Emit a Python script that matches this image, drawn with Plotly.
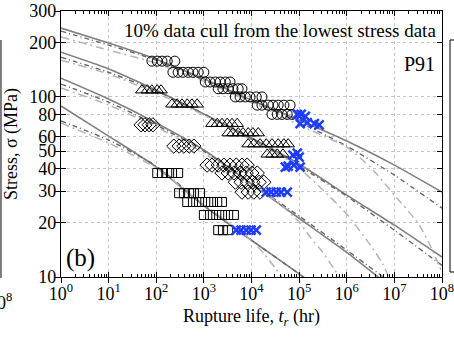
import plotly.graph_objects as go

# ---------------- data ----------------
# experimental rupture data, grouped by stress level rows (t in hr, stress in MPa)
circ_t = [81, 105, 132, 170, 245,
          224, 288, 363, 468, 589, 759, 1000,
          1070, 1350, 1740, 2190, 2820, 3550,
          2000, 2510, 3240, 4070, 5250, 6310,
          4570, 5750, 7410, 9330, 12600, 16600,
          13200, 16600, 22400, 28200, 36300, 47900, 64600,
          26900, 34700, 43700, 56200, 70800]
circ_s = [158]*5 + [137]*7 + [121]*6 + [111]*6 + [100]*6 + [90]*7 + [80]*5

tri_t = [50, 65, 81, 105, 126,
         214, 275, 347, 447, 562, 724,
         1480, 1910, 2400, 3090, 3890, 5010,
         3240, 4070, 5250, 6610, 8510, 10700, 13800,
         8510, 11200, 15100, 20400, 26900, 36300, 47900, 58900,
         21400, 26900, 34700, 45700]
tri_s = [109]*5 + [91]*6 + [71]*6 + [63]*7 + [54.7]*8 + [48]*4

dia_t = [48, 58, 71, 85,
         234, 302, 380, 490, 617,
         1170, 1480, 2000, 2630, 3550, 4790, 6310, 8130,
         2400, 3240, 4270, 5750, 7760, 10200, 13200,
         4570, 6030, 8130, 10700, 14500, 18200,
         6310, 8510, 11200, 15100]
dia_s = [70]*4 + [53.3]*5 + [41.8]*8 + [37.8]*7 + [33.6]*6 + [29.6]*4

sq_t = [105, 132, 170, 214, 288,
        302, 380, 490, 617, 832,
        447, 589, 794, 1070, 1410, 1910, 2400,
        1000, 1350, 1820, 2400, 3240, 4270,
        2000, 2510, 3240]
sq_s = [37.8]*5 + [29.2]*5 + [26.1]*7 + [22.1]*6 + [18.2]*3

# culled (lowest-stress 10%) data
cull_t = [91200, 110000, 135000, 105000, 148000, 209000, 263000,
          58900, 74100, 91200, 100000, 77600, 105000, 51300,
          20400, 25700, 33100, 41700, 56200,
          4790, 6030, 7760, 9770, 12600]
cull_s = [80, 80, 78, 71, 72, 71, 70,
          41.3, 47.5, 48.8, 46.3, 41.8, 40.8, 40.8,
          29.6, 29.6, 29.6, 29.6, 29.6,
          18.2, 18.2, 18.2, 18.2, 18.2]

# model predictions
t_grid = [1, 10, 100, 1e3, 1e4, 1e5, 1e6, 1e7, 1e8]
solid_1 = [241, 199, 162, 126, 96, 74.4, 56.9, 41.8, 29.6]
solid_2 = [177, 143, 109, 80.3, 59.1, 42.4, 28.5, 19.4, 12.9]
solid_3 = [127, 97.3, 71.6, 50.7, 32.8, 21.2, 13.7, 8.5, 5.4]
solid_4 = [89, 60.6, 40.8, 24.8, 16.0, 10.4, 6.5]

dot_1 = [232, 194, 160, 124, 94.9, 72.4, 53.3, 36.8, 24.1]
dot_2 = [166, 137, 108, 80.3, 58.4, 41.3, 28.1, 18.2, 11.6]
dot_3 = [117.8, 93.6, 69.8, 50.0, 33.2, 21.8, 14.1, 9.0]
dot_4 = [73.5, 57.6, 41.3, 25.1, 16.0, 10.4, 6.7]

light_1_t = [1, 10, 100, 1e3, 1e4, 1e5, 1e6, 3.16e6, 1e7, 3.16e7, 5.62e7, 1e8]
light_1 = [215, 182, 154, 122, 93.6, 69.8, 52.6, 40.7, 28.5, 19.9, 15.0, 10.6]
light_2_t = [1, 10, 100, 1e3, 1e4, 3.16e4, 1e5, 3.16e5, 1e6, 3.16e6, 5.62e6, 1e7]
light_2 = [160, 134, 105, 79.2, 57.6, 49.4, 40.3, 30.4, 22.4, 15.0, 11.9, 8.5]
light_3_t = [1, 10, 100, 1e3, 1e4, 3.16e4, 1e5, 1.78e5, 3.16e5, 5.62e5, 1e6]
light_3 = [112, 90.2, 68.1, 48.7, 32.0, 26.7, 20.2, 16.4, 13.7, 10.9, 8.5]
light_4_t = [1, 10, 100, 1e3, 3.16e3, 1e4, 1.78e4, 3.16e4, 5.62e4]
light_4 = [71.6, 55.5, 40.3, 25.1, 20.2, 16.0, 13.6, 11.2, 9.0]

x_major = [1, 10, 100, 1e3, 1e4, 1e5, 1e6, 1e7, 1e8]
x_labels = ["10<sup>%d</sup>" % k for k in range(9)]
y_ticks = [10, 20, 30, 40, 50, 60, 80, 100, 200, 300]
y_labels = ["10", "20", "30", "40", "50", "60", "80", "100", "200", "300"]
x_minor = [m * d for d in x_major[:-1] for m in range(2, 10)]

FONT = "Liberation Serif"
BLUE = "#1e3cff"
SOLID = "#808080"
DARK = "#666666"
LIGHT = "#b4b4b4"

fig = go.Figure()

# model curves
for s in (solid_1, solid_2, solid_3, solid_4):
    fig.add_trace(go.Scatter(x=t_grid[:len(s)], y=s, mode="lines",
                             line=dict(color=SOLID, width=1.6, shape="spline", smoothing=0.6),
                             hoverinfo="skip"))
for s in (dot_1, dot_2, dot_3, dot_4):
    fig.add_trace(go.Scatter(x=t_grid[:len(s)], y=s, mode="lines",
                             line=dict(color=DARK, width=1.4, dash="5px,3px,1px,3px",
                                       shape="spline", smoothing=0.6),
                             hoverinfo="skip"))
for tt, s in ((light_1_t, light_1), (light_2_t, light_2), (light_3_t, light_3), (light_4_t, light_4)):
    fig.add_trace(go.Scatter(x=tt, y=s, mode="lines",
                             line=dict(color=LIGHT, width=1.5, dash="8px,4px,2px,4px",
                                       shape="spline", smoothing=0.5),
                             hoverinfo="skip"))

# data
mk = dict(color="black", line=dict(color="black", width=1))
fig.add_trace(go.Scatter(x=circ_t, y=circ_s, mode="markers",
                         marker=dict(symbol="circle-open", size=10, **mk)))
fig.add_trace(go.Scatter(x=tri_t, y=tri_s, mode="markers",
                         marker=dict(symbol="triangle-up-open", size=11, **mk)))
fig.add_trace(go.Scatter(x=dia_t, y=dia_s, mode="markers",
                         marker=dict(symbol="diamond-open", size=11, **mk)))
fig.add_trace(go.Scatter(x=sq_t, y=sq_s, mode="markers",
                         marker=dict(symbol="square-open", size=9, **mk)))
fig.add_trace(go.Scatter(x=cull_t, y=cull_s, mode="markers",
                         marker=dict(symbol="x-thin", size=9, color=BLUE,
                                     line=dict(color=BLUE, width=2.5))))

# invisible trace to carry the outward tick stubs
fig.add_trace(go.Scatter(x=[x_major[0]], y=[y_ticks[0]], mode="markers", xaxis="x2", yaxis="y2",
                         marker=dict(opacity=0), hoverinfo="skip"))

axis_common = dict(showline=True, linecolor="black", linewidth=1.2, zeroline=False,
                   ticks="inside", ticklen=5, tickwidth=1, tickcolor="black", mirror="ticks",
                   showgrid=True, gridcolor="#c4c4c4", griddash="dot", gridwidth=1,
                   automargin=False,
                   tickfont=dict(family=FONT, size=18, color="black"))

fig.update_layout(
    width=454, height=337,
    margin=dict(l=61, r=12, t=11, b=60),
    paper_bgcolor="white", plot_bgcolor="white",
    font=dict(family=FONT, size=18, color="black"),
    showlegend=False,
    xaxis=dict(type="log", range=[0, 8], tickmode="array", tickvals=x_major, ticktext=x_labels,
               ticklabeloverflow="allow",
               minor=dict(tickmode="array", tickvals=x_minor, ticks="inside", ticklen=3,
                          tickcolor="black", showgrid=False),
               title=dict(text="Rupture life, <i>t<sub>r</sub></i> (hr)",
                          font=dict(family=FONT, size=18), standoff=6),
               **axis_common),
    yaxis=dict(type="log", range=[1, 2.4771], tickmode="array", tickvals=y_ticks, ticktext=y_labels,
               title=dict(text="Stress, σ (MPa)", font=dict(family=FONT, size=18), standoff=6),
               **axis_common),
    xaxis2=dict(type="log", range=[0, 8], overlaying="x", anchor="y2", side="bottom",
                tickmode="array", tickvals=x_major, ticks="outside", ticklen=5, tickcolor="black",
                showticklabels=False, showgrid=False, showline=False, zeroline=False, automargin=False),
    yaxis2=dict(type="log", range=[1, 2.4771], overlaying="y", anchor="x2", side="left",
                tickmode="array", tickvals=y_ticks, ticks="outside", ticklen=5, tickcolor="black",
                showticklabels=False, showgrid=False, showline=False, zeroline=False, automargin=False),
)

fig.add_annotation(text="10% data cull from the lowest stress data", xref="paper", yref="paper",
                   x=0.575, y=0.925, xanchor="center", yanchor="middle", showarrow=False,
                   font=dict(family=FONT, size=19))
fig.add_annotation(text="P91", xref="paper", yref="paper", x=0.987, y=0.801,
                   xanchor="right", yanchor="middle", showarrow=False, font=dict(family=FONT, size=20))
fig.add_annotation(text="(b)", xref="paper", yref="paper", x=0.05, y=0.0714,
                   xanchor="center", yanchor="middle", showarrow=False, font=dict(family=FONT, size=25))
# fragments of neighbouring panels
fig.add_annotation(text="10<sup>8</sup>", xref="paper", yref="paper", x=-0.160, y=-0.041,
                   xanchor="center", yanchor="top", showarrow=False, font=dict(family=FONT, size=18))
fig.add_shape(type="line", xref="paper", yref="paper", x0=-0.1575, x1=-0.1575, y0=-0.004, y1=0.891,
              line=dict(color="black", width=1))
fig.add_shape(type="rect", xref="paper", yref="paper", x0=1.021, x1=1.2, y0=0.0188, y1=0.891,
              line=dict(color="black", width=1))

fig.write_html("out.html")
